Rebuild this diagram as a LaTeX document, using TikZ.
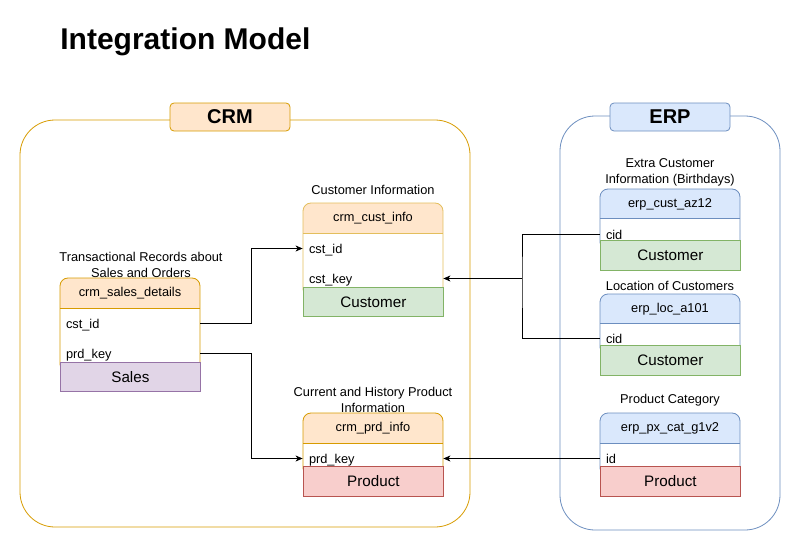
\documentclass[tikz,border=0pt]{standalone}
\usepackage{fontspec}
\setmainfont{Liberation Sans}
\usetikzlibrary{positioning}
\usetikzlibrary{arrows.meta}
\definecolor{crmfill}{HTML}{FFE6CC}
\definecolor{crmline}{HTML}{D79B00}
\definecolor{crmgold}{HTML}{E3BE5C}
\definecolor{erpfill}{HTML}{DAE8FC}
\definecolor{erpline}{HTML}{6C8EBF}
\definecolor{custfill}{HTML}{D5E8D4}
\definecolor{custline}{HTML}{82B366}
\definecolor{salesfill}{HTML}{E1D5E7}
\definecolor{salesline}{HTML}{9673A6}
\definecolor{prodfill}{HTML}{F8CECC}
\definecolor{prodline}{HTML}{B85450}
\tikzset{
    MyLayout/.style={x=1pt,y=-1pt,line width=0.8pt},
    rowtext/.style={text width=128pt, inner xsep=6pt, inner ysep=0pt, text height=11pt, text depth=1.5pt, align=left, font=\fontsize{12.8}{14}\selectfont},
    headtext/.style={font=\fontsize{12.8}{14}\selectfont},
    boxtext/.style={minimum width=140pt, inner sep=0pt, anchor=north west, font=\fontsize{15.2}{17}\selectfont},
    captext/.style={align=center, inner sep=0pt, font=\fontsize{12.8}{16}\selectfont},
    grouplabel/.style={rounded corners=4pt, minimum width=120pt, minimum height=28pt, inner sep=0pt, font=\bfseries\fontsize{20}{22}\selectfont},
    link/.style={line width=0.9pt, -{Stealth[length=7pt,width=6pt,inset=2pt]}},
    joint/.style={line width=0.9pt}
}

\begin{document}
\begin{tikzpicture}[MyLayout]
            \useasboundingbox (0,0) rectangle (801,551);

            \node[anchor=base west,inner sep=0pt,font=\bfseries\fontsize{30}{34}\selectfont] (title) at (60,50) {Integration Model};

            % the two systems
            \draw[crmline,rounded corners=35pt] (20,120) rectangle (470,527);
            \draw[erpline,rounded corners=35pt] (560,116) rectangle (780,530);
            \node[grouplabel,fill=crmfill,draw=crmline] (crm) at (230,117) {CRM};
            \node[grouplabel,fill=erpfill,draw=erpline] (erp) at (670,117) {ERP};

            % tables
            \foreach \tid/\tx/\ty/\tyh/\tyb/\tye/\hcol/\lcol/\bcol/\bline/\tname/\bname in {
                cci/303/203/233/287/316/crmfill/crmgold/custfill/custline/crm\_cust\_info/Customer,
                ssd/60/278/308/362/391/crmfill/crmline/salesfill/salesline/crm\_sales\_details/Sales,
                cpi/303/413/443/466/496/crmfill/crmline/prodfill/prodline/crm\_prd\_info/Product,
                eca/600/189/218/240/270/erpfill/erpline/custfill/custline/erp\_cust\_az12/Customer,
                elc/600/294/323/345/375/erpfill/erpline/custfill/custline/erp\_loc\_a101/Customer,
                epc/600/413/443/466/496/erpfill/erpline/prodfill/prodline/erp\_px\_cat\_g1v2/Product}
            {
                \begin{scope}
                    \clip[rounded corners=8pt] (\tx,\ty) rectangle (\tx+140,\tyb+10);
                    \fill[white] (\tx,\ty) rectangle (\tx+140,\tyb+10);
                    \fill[\hcol] (\tx,\ty) rectangle (\tx+140,\tyh);
                \end{scope}
                \draw[\lcol,rounded corners=8pt] (\tx,\ty) rectangle (\tx+140,\tyb+10);
                \draw[\lcol] (\tx,\tyh) -- (\tx+140,\tyh);
                \node[headtext] (\tid-head) at (\tx+70,{(\ty+\tyh)/2+0.5}) {\tname};
                \node[boxtext,fill=\bcol,draw=\bline,minimum height=\tye-\tyb] (\tid-box) at (\tx,\tyb) {\bname};
            }

            % captions
            \node[captext] (cci-cap) at (373,190) {Customer Information};
            \node[captext] (ssd-cap) at (141,265) {Transactional Records about\\Sales and Orders};
            \node[captext] (cpi-cap) at (373,400) {Current and History Product\\Information};
            \node[captext] (eca-cap) at (670,172) {Extra Customer\\Information (Birthdays)};
            \node[captext] (elc-cap) at (670,286) {Location of Customers};
            \node[captext] (epc-cap) at (670,400) {Product Category};

            % rows
            \node[rowtext] (cci-id) at (373,248.5) {cst\_id};
            \node[rowtext] (cci-key) at (373,278.5) {cst\_key};
            \node[rowtext] (ssd-id) at (130,323.5) {cst\_id};
            \node[rowtext] (ssd-key) at (130,353.5) {prd\_key};
            \node[rowtext] (cpi-key) at (373,458.5) {prd\_key};
            \node[rowtext] (eca-id) at (670,234.5) {cid};
            \node[rowtext] (elc-id) at (670,338.5) {cid};
            \node[rowtext] (epc-id) at (670,458.5) {id};

            % links
            \draw[link] (ssd-id.east) -- ++(51,0) |- (cci-id.west);
            \draw[link] (ssd-key.east) -- ++(51,0) |- (cpi-key.west);
            \coordinate (erpjoin) at (522,278.5);
            \draw[joint] (eca-id.west) -| (erpjoin) |- (elc-id.west);
            \draw[link] (erpjoin) -- (cci-key.east);
            \draw[link] (epc-id.west) -- (cpi-key.east);
\end{tikzpicture}
\end{document}
